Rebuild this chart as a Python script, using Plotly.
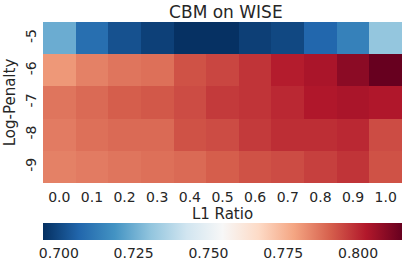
import plotly.graph_objects as go

l1_ratio = ["0.0", "0.1", "0.2", "0.3", "0.4", "0.5", "0.6", "0.7", "0.8", "0.9", "1.0"]
log_penalty = ["-5", "-6", "-7", "-8", "-9"]

row_m5 = [0.7247, 0.709, 0.702, 0.6983, 0.695, 0.695, 0.698, 0.700, 0.707, 0.714, 0.731]
row_m6 = [0.781, 0.785, 0.787, 0.788, 0.793, 0.795, 0.798, 0.802, 0.804, 0.809, 0.8147]
row_m7 = [0.787, 0.789, 0.791, 0.792, 0.794, 0.797, 0.798, 0.800, 0.803, 0.804, 0.803]
row_m8 = [0.786, 0.788, 0.789, 0.789, 0.793, 0.794, 0.797, 0.799, 0.799, 0.800, 0.794]
row_m9 = [0.785, 0.786, 0.787, 0.788, 0.789, 0.791, 0.793, 0.794, 0.796, 0.798, 0.793]

cbar_ticks = [0.700, 0.725, 0.750, 0.775, 0.800]

z = [row_m5, row_m6, row_m7, row_m8, row_m9]

font_color = "#262626"

fig = go.Figure(go.Heatmap(
    z=z, x=l1_ratio, y=log_penalty,
    colorscale="RdBu_r", zmin=0.6947, zmax=0.8147,
    xgap=0, ygap=0,
    colorbar=dict(
        orientation="h", x=0.5, xanchor="center", xref="paper",
        y=-0.248, yanchor="top", yref="paper",
        len=1.0, lenmode="fraction", thickness=17, xpad=0, ypad=0,
        outlinewidth=0, tickvals=cbar_ticks, tickformat=".3f",
        ticks="outside", ticklen=2, tickcolor="rgba(0,0,0,0)",
        tickfont=dict(size=14, color=font_color, family="DejaVu Sans"),
    ),
))

fig.update_layout(
    width=407, height=262,
    margin=dict(l=43, r=5, t=22, b=79, autoexpand=False),
    paper_bgcolor="white", plot_bgcolor="white",
    font=dict(family="DejaVu Sans", color=font_color, size=14),
    title=dict(text="CBM on WISE", x=0.555, xanchor="center", y=0.955, yanchor="middle",
               font=dict(size=17, color=font_color)),
    xaxis=dict(title=dict(text="L1 Ratio", standoff=3, font=dict(size=15)),
               ticks="", showgrid=False, tickfont=dict(size=14), automargin=False,
               ticklabelstandoff=4),
    yaxis=dict(title=dict(text="Log-Penalty", standoff=3, font=dict(size=15)),
               autorange="reversed", ticks="", showgrid=False, tickangle=-90,
               tickfont=dict(size=14), automargin=False, ticklabelstandoff=3),
)

fig.write_html("out.html", config={"displayModeBar": False},
               post_script="document.body.style.margin='0';")
